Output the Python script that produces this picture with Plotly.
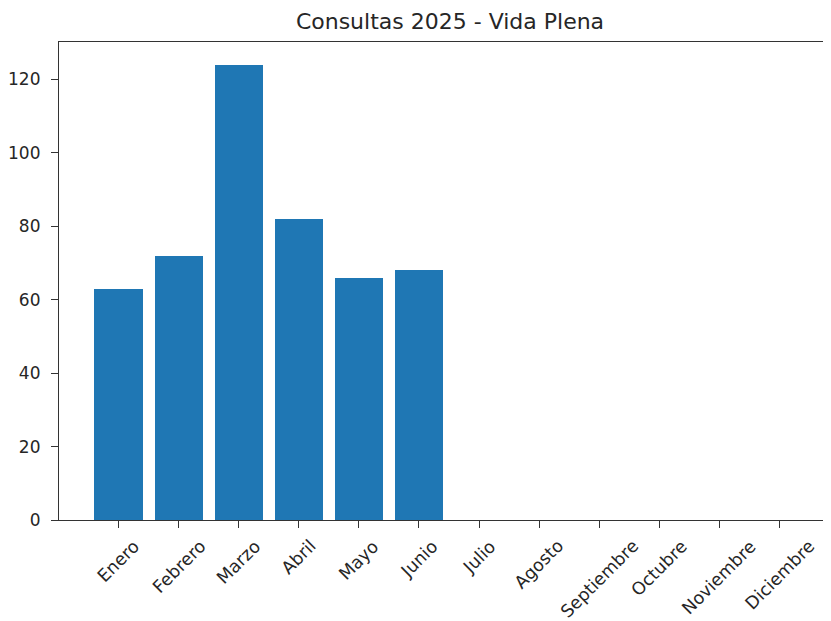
import plotly.graph_objects as go

months = ["Enero", "Febrero", "Marzo", "Abril", "Mayo", "Junio", "Julio",
          "Agosto", "Septiembre", "Octubre", "Noviembre", "Diciembre"]
consultas = [63, 72, 124, 82, 66, 68, 0, 0, 0, 0, 0, 0]
y_ticks = [0, 20, 40, 60, 80, 100, 120]
title = "Consultas 2025 - Vida Plena"

x_idx = list(range(len(months)))

fig = go.Figure(go.Bar(x=x_idx, y=consultas, width=0.8, marker_color="#1f77b4",
                       marker_line_width=0))

x_font = dict(family="DejaVu Sans", size=17.5, color="#262626")
y_font = dict(family="DejaVu Sans", size=17, color="#262626")
for i, m in zip(x_idx, months):
    fig.add_annotation(x=i, xref="x", y=-0.028, yref="paper", text=m, showarrow=False,
                       textangle=-45, xanchor="center", yanchor="top", font=x_font)

fig.update_layout(
    width=831, height=621,
    margin=dict(l=51, r=0, t=34, b=109),
    paper_bgcolor="white", plot_bgcolor="white",
    title=dict(text=title, x=442/831, xanchor="center", y=1 - 13/621, yanchor="middle",
               font=dict(family="DejaVu Sans", size=22, color="#262626")),
    showlegend=False,
    bargap=0,
)
fig.update_xaxes(range=[-0.99, 11.99], tickmode="array", tickvals=x_idx, ticktext=[""] * len(months),
                 ticks="outside", ticklen=7, tickwidth=1.2, tickcolor="#333",
                 showline=True, linecolor="#333", linewidth=1.2, mirror=True,
                 showgrid=False, zeroline=False, automargin=False)
fig.update_yaxes(range=[0, 130.2], tickmode="array", tickvals=y_ticks,
                 ticks="outside", ticklen=7, tickwidth=1.2, tickcolor="#333",
                 showline=True, linecolor="#333", linewidth=1.2,
                 showgrid=False, zeroline=False, tickfont=y_font,
                 ticklabelstandoff=7, automargin=False)

fig.write_html("out.html")
